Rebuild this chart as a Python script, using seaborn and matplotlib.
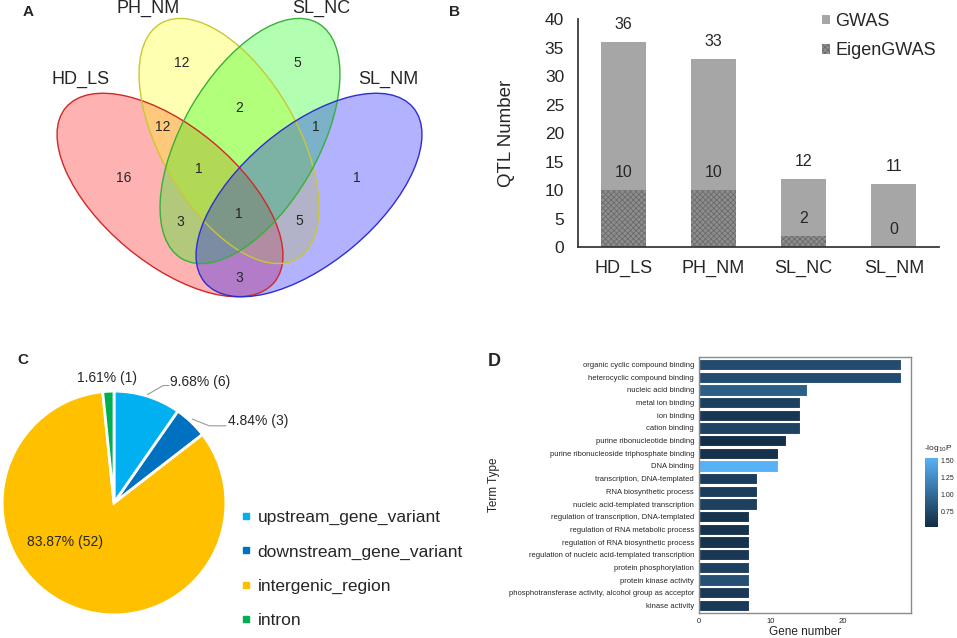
import numpy as np
import pandas as pd
import seaborn as sns
import matplotlib as mpl
import matplotlib.pyplot as plt
from matplotlib.patches import Ellipse, Patch
from matplotlib.lines import Line2D
from matplotlib.colors import LinearSegmentedColormap, Normalize

# ---------------- data ----------------
# A: venn region counts
venn_sets = ['HD_LS', 'PH_NM', 'SL_NC', 'SL_NM']
venn_regions = ['HD_LS', 'PH_NM', 'SL_NC', 'SL_NM',
                'HD_LS&PH_NM', 'PH_NM&SL_NC', 'SL_NC&SL_NM',
                'HD_LS&SL_NC', 'PH_NM&SL_NM', 'HD_LS&SL_NM',
                'HD_LS&PH_NM&SL_NC', 'HD_LS&PH_NM&SL_NC&SL_NM']
venn_counts = [16, 12, 5, 1, 12, 2, 1, 3, 5, 3, 1, 1]

# B: QTL numbers
qtl_traits = ['HD_LS', 'PH_NM', 'SL_NC', 'SL_NM']
qtl_gwas = [36, 33, 12, 11]
qtl_eigen = [10, 10, 2, 0]

# C: SNP annotation
snp_classes = ['upstream_gene_variant', 'downstream_gene_variant',
               'intergenic_region', 'intron']
snp_counts = [6, 3, 52, 1]
snp_pct = ['9.68%', '4.84%', '83.87%', '1.61%']

# D: GO enrichment
go_terms = ['organic cyclic compound binding', 'heterocyclic compound binding',
            'nucleic acid binding', 'metal ion binding', 'ion binding',
            'cation binding', 'purine ribonucleotide binding',
            'purine ribonucleoside triphosphate binding', 'DNA binding',
            'transcription, DNA-templated', 'RNA biosynthetic process',
            'nucleic acid-templated transcription',
            'regulation of transcription, DNA-templated',
            'regulation of RNA metabolic process',
            'regulation of RNA biosynthetic process',
            'regulation of nucleic acid-templated transcription',
            'protein phosphorylation', 'protein kinase activity',
            'phosphotransferase activity, alcohol group as acceptor',
            'kinase activity']
go_genes = [28, 28, 15, 14, 14, 14, 12, 11, 11, 8, 8, 8, 7, 7, 7, 7, 7, 7, 7, 7]
go_logp = [0.76, 0.76, 0.91, 0.68, 0.61, 0.70, 0.54, 0.57, 1.53, 0.65,
           0.65, 0.68, 0.59, 0.58, 0.59, 0.62, 0.68, 0.80, 0.63, 0.63]

# ---------------- style ----------------
sns.set_style('white')
plt.rcParams['font.family'] = ['Liberation Sans', 'DejaVu Sans']
plt.rcParams['hatch.linewidth'] = 0.6

W, H = 957, 638
fig = plt.figure(figsize=(W / 100, H / 100), dpi=100)

# ---------------- A: venn ----------------
axA = fig.add_axes([0, 1 - 310 / H, 480 / W, 310 / H])
axA.set_xlim(0, 480)
axA.set_ylim(310, 0)
axA.axis('off')

# ellipse centre / angle in pixel space of the panel
ell_geom = {'HD_LS': (170, 195, 40), 'PH_NM': (229, 141, 60),
            'SL_NC': (250, 141, -60), 'SL_NM': (309, 195, -40)}
ell_fill = {'HD_LS': '#FF0000', 'PH_NM': '#FFFF00',
            'SL_NC': '#00FF00', 'SL_NM': '#0000FF'}
ell_edge = {'HD_LS': '#D02828', 'PH_NM': '#C8C832',
            'SL_NC': '#38B038', 'SL_NM': '#2E2ED0'}
for s in venn_sets:
    cx, cy, ang = ell_geom[s]
    axA.add_patch(Ellipse((cx, cy), 272, 136, angle=ang,
                          facecolor=ell_fill[s], alpha=0.3, lw=0))
for s in venn_sets:
    cx, cy, ang = ell_geom[s]
    axA.add_patch(Ellipse((cx, cy), 272, 136, angle=ang,
                          facecolor='none', edgecolor=ell_edge[s], lw=1))

set_label_xy = {'HD_LS': (81, 79), 'PH_NM': (148, 8),
                'SL_NC': (321, 8), 'SL_NM': (388, 79)}
for s in venn_sets:
    axA.text(*set_label_xy[s], s, fontsize=13, ha='center', va='center')

region_xy = [(124, 178), (182, 63), (297, 63), (357, 178),
             (163, 127), (239, 108), (316, 127),
             (180, 222), (299, 221), (239, 278),
             (199, 169), (239, 214)]
for (x, y), n in zip(region_xy, venn_counts):
    axA.text(x, y, str(n), fontsize=10, ha='center', va='center')

# ---------------- B: stacked bars ----------------
axB = fig.add_axes([578 / W, 1 - 247 / H, (939 - 578) / W, (247 - 19) / H])
sns.barplot(x=qtl_traits, y=qtl_gwas, color='#A6A6A6', saturation=1,
            width=0.5, linewidth=0, ax=axB)
sns.barplot(x=qtl_traits, y=qtl_eigen, color='#8E8E8E', saturation=1,
            width=0.5, linewidth=0, edgecolor='#6A6A6A', hatch='xxxxxx', ax=axB)
for i, (g, e) in enumerate(zip(qtl_gwas, qtl_eigen)):
    axB.annotate(str(g), (i, g), xytext=(0, 12.6), textcoords='offset points',
                 ha='center', va='center', fontsize=11.5)
    axB.annotate(str(e), (i, e), xytext=(0, 12.6), textcoords='offset points',
                 ha='center', va='center', fontsize=11.5)
axB.set_xlim(-0.5, 3.5)
axB.set_ylim(0, 40)
axB.set_yticks(range(0, 41, 5))
axB.tick_params(axis='y', length=0, labelsize=12.5, pad=10)
axB.tick_params(axis='x', length=0, labelsize=13, pad=9)
sns.despine(ax=axB)
for sp in ['left', 'bottom']:
    axB.spines[sp].set_color('#3a3a3a')
    axB.spines[sp].set_linewidth(1.3)
axB.set_ylabel('QTL Number', fontsize=13.5)
axB.yaxis.set_label_coords(-0.175, 0.5)
leg_h = [Patch(facecolor='#A6A6A6', lw=0),
         Patch(facecolor='#8E8E8E', edgecolor='#6A6A6A', hatch='xxxxxx', lw=0)]
axB.legend(leg_h, ['GWAS', 'EigenGWAS'], loc='upper left',
           bbox_to_anchor=(822 / W, 1 - 13 / H), bbox_transform=fig.transFigure,
           frameon=False, fontsize=13, handlelength=0.45, handleheight=0.45,
           handletextpad=0.3, labelspacing=0.68, borderpad=0, borderaxespad=0)

# ---------------- C: pie ----------------
snp_colors = ['#00B0F0', '#0070C0', '#FFC000', '#00B050']
axC = fig.add_axes([1 / W, 1 - 616 / H, 226 / W, 226 / H])
axC.pie(snp_counts, colors=snp_colors, startangle=90, counterclock=False,
        wedgeprops=dict(edgecolor='white', linewidth=2))
axC.set_xlim(-1.01, 1.01)
axC.set_ylim(-1.01, 1.01)
pie_lab = [f'{p} ({c})' for p, c in zip(snp_pct, snp_counts)]
axC.text(0.50, 1.08, pie_lab[0], fontsize=10, ha='left', va='center')
axC.plot([0.30, 0.44, 0.49], [0.97, 1.05, 1.05], color='#9a9a9a', lw=0.8, clip_on=False)
axC.text(1.02, 0.73, pie_lab[1], fontsize=10, ha='left', va='center')
axC.plot([0.70, 0.85, 1.0], [0.75, 0.69, 0.69], color='#9a9a9a', lw=0.8, clip_on=False)
axC.text(-0.44, -0.35, pie_lab[2], fontsize=10, ha='center', va='center')
axC.text(-0.06, 1.115, pie_lab[3], fontsize=10, ha='center', va='center')
leg_c = [Line2D([], [], marker='s', ls='', color=c, markersize=5) for c in snp_colors]
axC.legend(leg_c, snp_classes, loc='upper left',
           bbox_to_anchor=(242 / W, 1 - 510 / H), bbox_transform=fig.transFigure,
           frameon=False, fontsize=12.5, handlelength=0.5, handletextpad=0.4,
           labelspacing=1.1, borderpad=0, borderaxespad=0)

# ---------------- D: GO bars ----------------
gg_cmap = LinearSegmentedColormap.from_list('gg', ['#132B43', '#56B1F7'])
norm = Normalize(0.52, 1.53)
go_df = pd.DataFrame({'term': go_terms, 'genes': go_genes, 'logp': go_logp})
pal = {t: gg_cmap(norm(v)) for t, v in zip(go_terms, go_logp)}
axD = fig.add_axes([699 / W, 1 - 613 / H, 212 / W, 256 / H])
sns.barplot(data=go_df, x='genes', y='term', hue='term', palette=pal,
            legend=False, width=0.9, saturation=1, edgecolor='white',
            linewidth=0.8, ax=axD)
axD.set_xlim(0, 29.4)
axD.set_ylim(19.6, -0.6)
axD.set_xticks([0, 10, 20])
axD.tick_params(axis='both', labelsize=5.5, length=2, width=0.6,
                color='#555555', pad=1.5)
for sp in axD.spines.values():
    sp.set_color('#8a8a8a')
    sp.set_linewidth(1)
axD.set_ylabel('Term Type', fontsize=8.5)
axD.yaxis.set_label_coords(-0.94, 0.5)
axD.set_xlabel('Gene number', fontsize=8.5)
axD.xaxis.set_label_coords(0.5, -0.05)

axCB = fig.add_axes([925 / W, 1 - 527 / H, 13 / W, 69 / H])
cb = fig.colorbar(mpl.cm.ScalarMappable(norm=norm, cmap=gg_cmap), cax=axCB,
                  ticks=[0.75, 1.0, 1.25, 1.5], format='%.2f')
cb.outline.set_visible(False)
axCB.tick_params(labelsize=5, length=2, color='white', direction='in', pad=2)
fig.text(924 / W, 1 - 449 / H, r'-log$_{10}$P', fontsize=6, ha='left', va='center')

# panel letters
fig.text(28 / W, 1 - 12 / H, 'A', fontsize=11, fontweight='bold', ha='center', va='center')
fig.text(455 / W, 1 - 12 / H, 'B', fontsize=11, fontweight='bold', ha='center', va='center')
fig.text(23 / W, 1 - 360 / H, 'C', fontsize=11, fontweight='bold', ha='center', va='center')
fig.text(494 / W, 1 - 362 / H, 'D', fontsize=13, fontweight='bold', ha='center', va='center')

fig.savefig('out.png', dpi=100)
